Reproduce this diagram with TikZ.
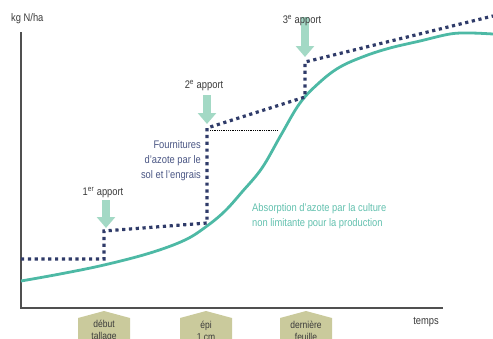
\documentclass[tikz,border=0pt]{standalone}
\usepackage{fontspec}
\setmainfont[FakeStretch=0.85]{Liberation Sans}
\usetikzlibrary{arrows.meta}

\definecolor{navy}{HTML}{2F3B69}
\definecolor{navytxt}{HTML}{4A5684}
\definecolor{turq}{HTML}{4DB9A5}
\definecolor{turqtxt}{HTML}{62C0AE}
\definecolor{menthe}{HTML}{A3D9C5}
\definecolor{kaki}{HTML}{CACA9C}
\definecolor{axegris}{HTML}{505050}
\definecolor{txtgris}{HTML}{3A3A3A}

\begin{document}
\begin{tikzpicture}[x=1pt,y=-1pt,
  axe/.style={draw=axegris,line width=1.2pt},
  apport/.style={draw=menthe,line width=8pt,-{Triangle[width=18pt,length=11pt]}},
  fourni/.style={draw=navy,line width=3.2pt,dash pattern=on 3.2pt off 3.6pt},
  absorb/.style={draw=turq,line width=2.8pt},
  lab/.style={font=\fontsize{11}{15}\selectfont,text=txtgris,inner sep=0pt},
  stade/.style={fill=kaki},
  stadetxt/.style={font=\fontsize{10}{11.5}\selectfont,text=txtgris,align=center,inner sep=0pt}]
 \useasboundingbox (0,0) rectangle (493,338);

 % axes
 \coordinate (O) at (21,308);
 \coordinate (ytop) at (21,32);
 \coordinate (xend) at (443,308);
 \draw[axe] (ytop) -- (O) -- (xend);
 \node[lab,anchor=west] (ylab) at (11,19) {kg N/ha};
 \node[lab] (xlab) at (426,322) {temps};

 % stades
 \foreach \x/\txt [count=\i] in {104/{début\\tallage},206/{épi\\1 cm},306/{dernière\\feuille}} {
   \fill[stade] (\x-26,345) -- (\x-26,318) -- (\x,311) -- (\x+26,318) -- (\x+26,345) -- cycle;
   \node[stadetxt] (stade\i) at (\x,331) {\txt};
 }

 % absorption
 \draw[absorb] plot[smooth,tension=0.6] coordinates {(21,281) (60,274) (104,265) (150,253)
   (185,240) (207,226) (225,211) (242,192) (262,168) (281,135) (300,103) (320,82)
   (340,67) (365,56) (390,48) (420,41) (450,34) (470,33) (493,34)};

 % fournitures
 \coordinate (f0) at (21,259);
 \coordinate (f1) at (104,259);
 \coordinate (f2) at (104,231);
 \coordinate (f3) at (207,223);
 \coordinate (f4) at (207,128);
 \coordinate (f5) at (305,97);
 \coordinate (f6) at (305,62);
 \coordinate (f7) at (493,16);
 \draw[fourni] (f0) -- (f1) -- (f2) -- (f3) -- (f4) -- (f5) -- (f6) -- (f7);
 \coordinate (palier) at (277,130);
 \draw[densely dotted,line width=0.8pt] (210,130) -- (palier);

 % apports
 \draw[apport] (106,200) -- (106,228);
 \draw[apport] (207,95) -- (207,124);
 \draw[apport] (305,17) -- (305,57);
 \node[lab] (ap1) at (103,193) {1\textsuperscript{er} apport};
 \node[lab] (ap2) at (204,86) {2\textsuperscript{e} apport};
 \node[lab] (ap3) at (302,21) {3\textsuperscript{e} apport};

 \node[lab,text=navytxt,align=right,anchor=east] (sol) at (201,161)
   {Fournitures\\d'azote par le\\sol et l'engrais};
 \node[lab,text=turqtxt,align=left,anchor=west] (culture) at (252,216)
   {Absorption d'azote par la culture\\non limitante pour la production};
\end{tikzpicture}
\end{document}
